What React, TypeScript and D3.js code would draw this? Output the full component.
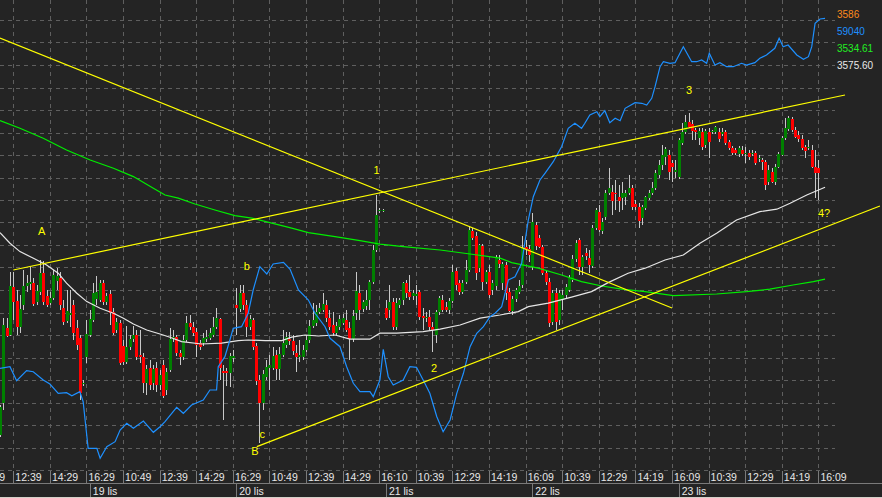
import React from 'react';
import * as d3 from 'd3';

// ---- OHLC data (bar index 0..246), prices ----
const opens = [3455,3471,3508.5,3505,3529,3522,3509,3520,3529.5,3530.5,3531,3521.5,3526.5,3536,3524.5,3521,3523.5,3532,3533.5,3518.5,3512,3515,3520,3508.5,3503.5,3480.5,3494,3505,3512.5,3523,3522.5,3531,3521.5,3525.5,3516.5,3507.5,3511,3499.5,3491.5,3499,3503,3505,3495,3494,3481,3488.5,3481,3488.5,3480,3490,3477.5,3487.5,3503,3504,3496,3494,3502.5,3511,3509,3506.5,3501,3501,3503,3503.5,3505,3509,3513,3487,3487,3486,3493.5,3520,3518,3526,3520,3509,3512.5,3499.5,3482.5,3471,3484,3488.5,3488.5,3495,3488,3495,3500,3503,3502,3496,3494,3494,3497.5,3502.5,3509.5,3511,3516.5,3517.5,3520,3513.5,3510,3506,3509,3511,3512.5,3508.5,3503,3516,3526,3518,3519.5,3522.5,3531.5,3547.5,3567,3567,3518.5,3517.5,3521.5,3509,3520,3522.5,3531,3526.5,3524.5,3524.5,3526.5,3514.5,3513.5,3514,3509,3505,3516.5,3522.5,3519,3517.5,3522,3537,3531,3526.5,3531.5,3537.5,3557,3554.5,3538.5,3549.5,3531.5,3536.5,3527.5,3529.5,3542.5,3531,3540,3526.5,3517,3523,3526.5,3530,3549,3548,3539,3560,3553.5,3549,3536,3531.5,3511.5,3526,3512.5,3522.5,3525,3527.5,3532.5,3543,3552.5,3539,3546,3543.5,3539.5,3558.5,3566.5,3557,3564,3576,3576.5,3576,3574,3573.5,3574,3576,3578.5,3570.5,3569,3563.5,3568.5,3573.5,3576,3578.5,3585,3590,3594,3595,3591,3586.5,3584,3601,3606.5,3611.5,3610.5,3607.5,3603.5,3606.5,3600,3606.5,3606.5,3606.5,3606.5,3605.5,3606.5,3601.5,3598.5,3597.5,3595.5,3597.5,3595.5,3596,3595.5,3596,3593,3592.5,3591.5,3581.5,3586.5,3581.5,3589,3595,3603.5,3608,3613,3607.5,3605,3603,3599,3598.5,3597.5,3589,3588.5];
const highs = [3470,3513.5,3513.5,3536.5,3536.5,3527.5,3525,3537.5,3535,3539,3533.5,3530,3542.5,3542,3527.5,3526.5,3537.5,3538.5,3536.5,3522.5,3527.5,3527.5,3522.5,3512.5,3505,3482.5,3512.5,3517.5,3531,3534.5,3532.5,3532.5,3526,3527.5,3518.5,3513.5,3512.5,3502.5,3509.5,3505,3509.5,3507.5,3507.5,3496,3490,3492.5,3490,3491.5,3487.5,3492.5,3488.5,3508.5,3507.5,3505,3497.5,3505,3514.5,3515,3511.5,3508.5,3502.5,3506,3507.5,3508.5,3514,3518.5,3513.5,3490,3488.5,3496,3497.5,3528.5,3530,3530,3522.5,3515,3513.5,3501,3485,3487.5,3492.5,3495,3499,3497.5,3499,3507.5,3506.5,3506.5,3505,3500,3502.5,3500,3505,3512.5,3521,3520,3521,3526,3522.5,3517.5,3516.5,3511.5,3515,3515.5,3517.5,3511.5,3517.5,3536.5,3530,3522.5,3527.5,3532.5,3550,3575,3568.5,3568,3522.5,3530,3523.5,3523.5,3523.5,3531.5,3532.5,3535,3527.5,3530,3527.5,3518.5,3516.5,3517.5,3511.5,3517.5,3524.5,3525,3521.5,3523.5,3540,3538.5,3532.5,3532.5,3542.5,3559.5,3558.5,3556.5,3550.5,3550.5,3537.5,3540,3532.5,3545,3545,3541.5,3541.5,3528.5,3524.5,3528.5,3532.5,3554.5,3552.5,3550,3566,3561.5,3555,3550,3537.5,3533.5,3527.5,3528.5,3527.5,3527.5,3530.5,3535,3545,3552.5,3553.5,3545,3548.5,3547.5,3560,3568.5,3570,3563.5,3577.5,3588.5,3580,3582.5,3580,3581.5,3577.5,3585,3580,3572.5,3571,3570,3574.5,3577.5,3581.5,3587.5,3592.5,3600,3599,3597.5,3592.5,3592.5,3603.5,3611,3615,3616,3612.5,3608.5,3608.5,3608.5,3608,3608.5,3607.5,3609.5,3608.5,3608.5,3607.5,3602.5,3599.5,3598.5,3599.5,3599.5,3599,3597.5,3597.5,3597,3595,3593.5,3592.5,3590,3588.5,3590.5,3596.5,3604.5,3613.5,3614.5,3614,3609,3607,3605,3600,3602.5,3600,3597.5,3592.5];
const lows = [3454,3467.5,3504,3504.5,3512.5,3505,3506,3517.5,3526.5,3527.5,3519.5,3520,3525,3520,3519,3520,3522.5,3527.5,3517.5,3510,3511,3509,3502.5,3497.5,3472.5,3479.5,3491,3504,3511.5,3520,3521.5,3520,3520,3510,3505,3506,3490,3490,3490.5,3497.5,3501.5,3492.5,3491,3476,3475,3477.5,3477.5,3476.5,3477.5,3473.5,3475,3486.5,3501.5,3494.5,3490,3492.5,3501.5,3507.5,3504.5,3494,3497.5,3499.5,3501.5,3502.5,3504,3508,3482.5,3462.5,3479.5,3479,3491.5,3505,3516.5,3517.5,3504,3507.5,3497.5,3480,3451,3467.5,3482.5,3477.5,3487.5,3482.5,3482.5,3494,3498.5,3500,3495,3486.5,3491.5,3492.5,3496.5,3501,3508.5,3509.5,3515.5,3516.5,3511.5,3507.5,3504.5,3504.5,3507.5,3510,3506.5,3492.5,3501.5,3512.5,3512.5,3516.5,3517.5,3517.5,3530.5,3546.5,3566,3566.5,3512.5,3513.5,3507.5,3507.5,3518.5,3520,3523.5,3522.5,3522.5,3520,3512.5,3507.5,3511.5,3507.5,3496.5,3501,3515,3516.5,3516.5,3515.5,3521,3527.5,3525,3525.5,3530.5,3536.5,3552.5,3532.5,3536.5,3527.5,3530.5,3523.5,3525,3527.5,3538.5,3527.5,3522.5,3516.5,3515,3521.5,3525.5,3528.5,3545,3541.5,3537.5,3547.5,3548.5,3535,3530,3509,3510,3507.5,3510,3517.5,3523.5,3526.5,3531.5,3541.5,3535,3535,3542.5,3536,3538.5,3557.5,3556.5,3555.5,3562.5,3575,3565,3567.5,3566.5,3567.5,3570,3575,3567.5,3567.5,3558.5,3560,3567.5,3572.5,3575,3577.5,3583.5,3587.5,3590,3582.5,3581.5,3583.5,3583,3600,3605.5,3608.5,3602.5,3602.5,3600,3597.5,3598.5,3593.5,3605.5,3605.5,3601.5,3604.5,3600,3597.5,3595,3595,3594,3594.5,3591,3592.5,3594.5,3590,3591.5,3587.5,3577.5,3580,3581,3580,3588.5,3594.5,3602.5,3607,3606.5,3603.5,3601.5,3597.5,3593.5,3597.5,3588.5,3573.5,3572.5];
const closes = [3469,3510,3504.5,3529.5,3521.5,3509,3518,3529.5,3531,3531.5,3520.5,3527,3536,3521.5,3520,3523.5,3535,3534.5,3520,3511.5,3517,3516,3506,3500,3476,3481,3505.5,3513,3526,3526.5,3531,3521.5,3524.5,3516,3506,3511.5,3491,3491.5,3499,3503,3505,3494,3494,3481,3488,3480,3488,3480,3485,3474.5,3486.5,3503,3504,3496,3494,3502.5,3511,3509,3506,3500,3499,3503.5,3504,3506,3509,3513.5,3488.5,3486,3486,3494.5,3494.5,3518.5,3526,3520,3509,3513,3499,3482,3471,3485.5,3489,3490,3494.5,3488,3495.5,3501,3504,3502,3497,3494,3495,3497.5,3502.5,3509.5,3512.5,3516.5,3518.5,3520.5,3513.5,3509,3506,3509.5,3513,3513.5,3507.5,3503,3514.5,3527,3517.5,3521.5,3522.5,3531.5,3547.5,3565,3567.5,3567.5,3513.5,3521.5,3509,3521,3522.5,3531,3526,3524,3526,3525.5,3514,3513.5,3514,3509,3507.5,3516.5,3523.5,3517.5,3517.5,3522,3536.5,3530,3526.5,3531,3537.5,3557.5,3553.5,3536,3550,3531.5,3536.5,3525,3531,3544,3540.5,3540.5,3526,3517,3523,3527.5,3529.5,3548.5,3548,3545,3561.5,3549.5,3549,3536,3531.5,3511,3526,3511.5,3526,3525,3529,3533.5,3543,3551,3539,3544,3544.5,3540,3558.5,3567.5,3557.5,3561.5,3576,3578.5,3572,3575.5,3572,3576,3576,3578.5,3569,3569,3562,3569,3574,3576,3578.5,3586,3590,3595,3598,3586.5,3589,3587.5,3602.5,3606.5,3611.5,3609,3607,3606.5,3607,3599,3607,3601.5,3607,3609,3603,3606.5,3601,3598.5,3596,3596,3598.5,3595.5,3596,3594,3596,3591,3593.5,3591.5,3580,3587.5,3581.5,3589,3595.5,3603.5,3608.5,3613.5,3607.5,3604,3603,3598.5,3597,3599,3589,3586,3586];

// ---- moving averages [barIndex, price] ----
const greenMA: [number, number][] = [[0,3612.2],[6,3608.4],[13,3603.4],[20,3597.5],[27.1,3592.5],[34.1,3588.4],[40.1,3584.2],[46.1,3578.4],[49.6,3575],[53.6,3573.4],[58.6,3570.5],[64.6,3567.5],[70.6,3564.7],[75.7,3563.4],[81.7,3560.9],[87.7,3558.4],[92.7,3556.2],[100.7,3554.2],[108.2,3552.2],[114.2,3550.4],[121.2,3549.2],[132.3,3547.5],[141.3,3545.5],[150.3,3543.4],[153.8,3541.2],[161.8,3538.4],[168.8,3535],[174.8,3531.7],[180.9,3529.5],[186.9,3527.9],[193.9,3526.7],[202.4,3524.7],[215.4,3525.5],[224.4,3526.7],[231.4,3527.9],[238.4,3530],[244.5,3531.7],[248,3532.9]];
const whiteMA: [number, number][] = [[0,3556.2],[3,3550.9],[6,3546.7],[9.9,3543.5],[14,3540],[17.5,3535.9],[20,3530.9],[23.1,3525.9],[26.1,3521.7],[30.1,3518.4],[34.1,3515.9],[37.1,3513.4],[40.1,3510.5],[44.1,3507.5],[48.1,3505.5],[51.1,3503.9],[54.6,3501.7],[60.6,3500.5],[66.6,3500.9],[71.6,3502.2],[74.6,3502.5],[79.7,3502.2],[84.7,3502.2],[87.7,3503.9],[91.7,3505],[95.7,3504.5],[100.7,3505],[105.2,3502.9],[111.2,3502.9],[114.2,3505.9],[119.2,3505.9],[127.2,3506.7],[132.3,3507.9],[138.3,3510],[144.3,3513.4],[150.3,3515],[155.8,3516.7],[158.8,3519.2],[164.8,3520.9],[171.8,3523.9],[177.8,3526.7],[182.8,3531.2],[188.8,3535.9],[193.9,3538.4],[199.9,3542.5],[205.4,3545],[210.4,3550.9],[215.4,3555.9],[221.4,3562.5],[228.4,3566.7],[233.5,3567.9],[237.5,3570.9],[242.5,3575],[248,3578.9]];
// ---- indicator (blue) [barIndex, value] ----
const blueLine: [number, number][] = [[0,24010],[3,24170],[5,22770],[8,23770],[10,23670],[13,22840],[15,22440],[17.5,21510],[20,21570],[21.6,21270],[24,21670],[25,20670],[25.8,18170],[26.5,16010],[29.1,16010],[30.1,15010],[32.1,16170],[34.6,16670],[36.1,17840],[38.1,18510],[40.1,18010],[43.1,18740],[46.1,17610],[48.1,18170],[49.6,18670],[53.1,20110],[55.1,19510],[57.6,20340],[61.1,20840],[63.1,21840],[65.1,21840],[65.6,24170],[67.6,25170],[69.1,26840],[70.1,28010],[72.6,28170],[74.6,29510],[76.1,31840],[78.1,34170],[80.2,33440],[82.1,34440],[85.2,34610],[87.2,33910],[89.7,31840],[92.7,30840],[94.7,29510],[97.7,28170],[99.2,27010],[102.2,26170],[104.2,24170],[106.2,22510],[108.2,21670],[111.2,21670],[112.2,21170],[114.2,22840],[115.2,25910],[116.7,23170],[118.2,22340],[121.2,22840],[123.2,24170],[125.2,24110],[127.2,22840],[129.2,21510],[131.3,19170],[133.2,17670],[135.3,18840],[137.3,21510],[139.3,23510],[141.3,26170],[143.3,27510],[145.3,28170],[147.3,29170],[148.8,29510],[150.8,30170],[152.8,32840],[154.8,33170],[156.8,34510],[158.8,38840],[160.3,41170],[162.3,42840],[163.8,43510],[166.3,44670],[168.8,46170],[170.8,48010],[172.8,48510],[174.8,48010],[175.8,48510],[177.3,49340],[179.4,49670],[180.3,49170],[181.8,49770],[183.3,48570],[184.9,49010],[186.4,48770],[187.9,50010],[190.9,50570],[192.9,50510],[194.4,50340],[195.9,51010],[196.9,52170],[198.4,54170],[199.4,54670],[201.4,54510],[202.9,54570],[205.4,56170],[207.9,54670],[209.4,54670],[210.9,54840],[212.4,54510],[213.2,55510],[214.9,54340],[216.4,54570],[218.4,54170],[220.4,54170],[222.9,54510],[224.4,54340],[226.9,54570],[228.4,55010],[230.4,55340],[232.9,56010],[234.2,57010],[235.4,56170],[236.9,56340],[239.5,55340],[241.5,54910],[243,55170],[244,56170],[245,58510],[246.5,58940],[248,59010]];

// ---- trend lines [bar1, price1, bar2, price2] ----
const trendLines = [[0,3653.5,202,3518.5],[4,3537.5,254,3625],[77.2,3449.2,264.5,3569.5]];

// ---- wave labels ----
const waveTexts = ["A","b","c","B","1","2","3","4?"];
const waveBars = [12.5,74.2,78.8,76.6,113.2,130.5,207.1,247.7];
const wavePrices = [3556.8,3539.5,3455.5,3447,3587.5,3488.5,3627.5,3566];

// ---- axis labels ----
const timeLabels = ["10:49","12:39","14:29","16:29","10:49","12:39","14:29","16:29","10:49","12:39","14:29","16:10","10:39","12:29","14:19","16:09","10:39","12:29","14:19","16:09","10:39","12:29","14:19","16:09"];
const firstTickBar = -7;
const barsPerTick = 11;
const dateLabels = ["19 lis","20 lis","21 lis","22 lis","23 lis"];
const dateBars = [27,71,116,160,204];
const tagTexts = ["3586","59040","3534.61","3575.60"];
const tagColors = ["#ff8a1c","#1e90ff","#22ee22","#e8e8e8"];

const W = 882, H = 498, PLOT_B = 470, GRID_R = 835;

export default function App() {
  const x = d3.scaleLinear().domain([0, 246]).range([0, 818.4]);
  const y = d3.scaleLinear().domain([3437.5, 3672.5]).range([470, 0]);
  const yb = d3.scaleLinear().domain([13840, 60840]).range([470, 0]);
  const gridPrices = d3.range(21).map(k => 3662.25 - 11.25 * k);
  const tickBars = timeLabels.map((_, i) => firstTickBar + i * barsPerTick);

  const maLine = d3.line<[number, number]>().x(d => x(d[0])).y(d => y(d[1]));
  const blueGen = d3.line<[number, number]>().x(d => x(d[0])).y(d => yb(d[1]));

  const font = "'Liberation Sans', Arial, sans-serif";

  return (
    <>
      <style>{"body{margin:0;background:#242424}"}</style>
      <svg width={W} height={H} style={{ display: 'block' }}>
        <rect x={0} y={0} width={W} height={H} fill="#242424" />
        <defs>
          <clipPath id="plot"><rect x={0} y={0} width={W} height={PLOT_B} /></clipPath>
        </defs>
        {/* grid */}
        <g stroke="#5f5f5f" strokeDasharray="4,4" shapeRendering="crispEdges">
          {gridPrices.map((p, i) => (
            <line key={'h' + i} x1={0} x2={GRID_R} y1={Math.round(y(p) - 0.5) + 0.5} y2={Math.round(y(p) - 0.5) + 0.5} />
          ))}
          {tickBars.map((b, i) => (
            <line key={'v' + i} x1={Math.round(x(b)) + 0.5} x2={Math.round(x(b)) + 0.5} y1={0} y2={PLOT_B} />
          ))}
        </g>
        <g clipPath="url(#plot)">
          {/* candles */}
          {opens.map((o, i) => {
            const c = closes[i];
            const hi = Math.max(highs[i], o, c);
            const lo = Math.min(lows[i], o, c);
            const cx = Math.round(x(i));
            const up = c >= o;
            const top = Math.round(y(Math.max(o, c)));
            const bot = Math.round(y(Math.min(o, c)));
            return (
              <g key={i} shapeRendering="crispEdges">
                <line x1={cx + 0.5} x2={cx + 0.5} y1={Math.round(y(hi))} y2={Math.round(y(lo))} stroke="#c8c8c8" />
                <rect x={cx - 1} y={top} width={3} height={Math.max(1, bot - top)} fill={up ? '#008000' : '#ff0000'} />
              </g>
            );
          })}
          <path d={maLine(greenMA) || ''} fill="none" stroke="#00ee00" strokeWidth={1.2} />
          <path d={maLine(whiteMA) || ''} fill="none" stroke="#e6e6e6" strokeWidth={1.2} />
          <path d={blueGen(blueLine) || ''} fill="none" stroke="#1e90ff" strokeWidth={1.2} />
          {trendLines.map((t, i) => (
            <line key={'t' + i} x1={x(t[0])} y1={y(t[1])} x2={x(t[2])} y2={y(t[3])} stroke="#ffff00" strokeWidth={1.2} />
          ))}
        </g>
        {waveTexts.map((t, i) => (
          <text key={'w' + i} x={x(waveBars[i])} y={y(wavePrices[i])} fill="#ffff00" fontFamily={font} fontSize={11}
            textAnchor="middle" dominantBaseline="central">{t}</text>
        ))}
        {tagTexts.map((t, i) => (
          <text key={'g' + i} x={837} y={18 + i * 17} fill={tagColors[i]} fontFamily={font} fontSize={10}>{t}</text>
        ))}
        {/* time axis */}
        <g shapeRendering="crispEdges" stroke="#7a7a7a">
          <line x1={0} x2={W} y1={483.5} y2={483.5} />
          {tickBars.map((b, i) => (
            <line key={'s' + i} x1={Math.round(x(b)) + 0.5} x2={Math.round(x(b)) + 0.5} y1={471} y2={483} />
          ))}
          {dateBars.map((b, i) => (
            <line key={'d' + i} x1={Math.round(x(b)) + 0.5} x2={Math.round(x(b)) + 0.5} y1={484} y2={497} />
          ))}
        </g>
        {timeLabels.map((t, i) => (
          <text key={'tl' + i} x={x(tickBars[i]) + 2} y={481} fill="#e8e8e8" fontFamily={font} fontSize={10.5}>{t}</text>
        ))}
        {dateLabels.map((t, i) => (
          <text key={'dl' + i} x={x(dateBars[i]) + 3} y={494.5} fill="#e8e8e8" fontFamily={font} fontSize={10.5}>{t}</text>
        ))}
        <rect x={0} y={497} width={W} height={1} fill="#d4d0c8" />
      </svg>
    </>
  );
}
